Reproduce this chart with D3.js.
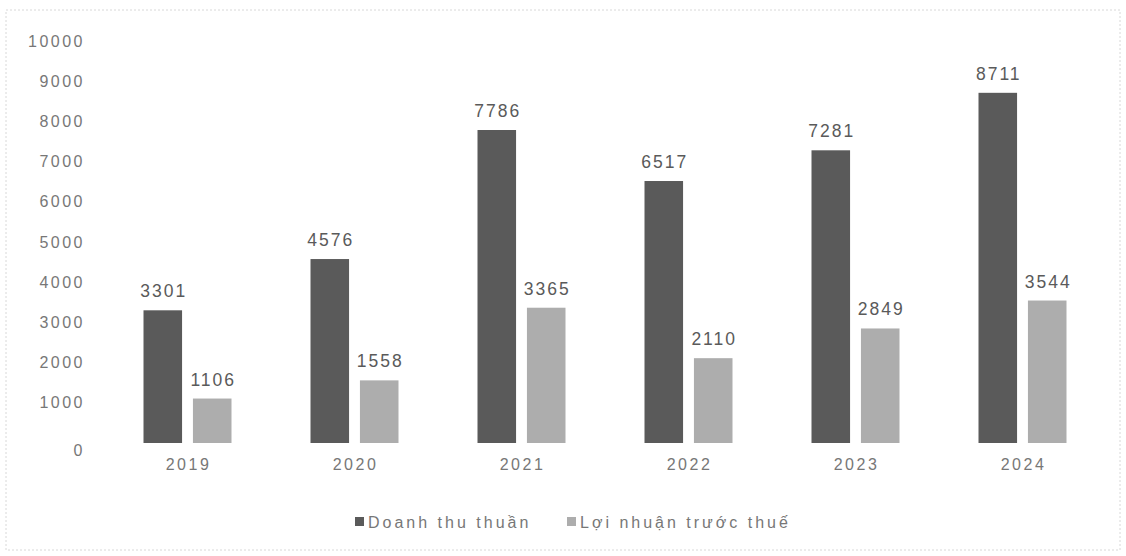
<!DOCTYPE html>
<html lang="vi">
<head>
<meta charset="UTF-8">
<title>Doanh thu thuần và Lợi nhuận trước thuế</title>
<script src="https://d3js.org/d3.v7.min.js"></script>
<style>
  body { margin: 0; background: #fff; }
  text { font-family: "Liberation Sans", Arial, sans-serif; }
</style>
</head>
<body>
<script>
// data
const years = ["2019", "2020", "2021", "2022", "2023", "2024"];
const revenue = [3301, 4576, 7786, 6517, 7281, 8711];
const profit = [1106, 1558, 3365, 2110, 2849, 3544];
const seriesNames = ["Doanh thu thuần", "Lợi nhuận trước thuế"];
const yTicks = [0, 1000, 2000, 3000, 4000, 5000, 6000, 7000, 8000, 9000, 10000];

const width = 1126, height = 556;
const colors = ["#5a5a5a", "#adadad"];

const svg = d3.select("body").append("svg")
    .attr("width", width)
    .attr("height", height);

// faint scanned frame
svg.append("rect")
    .attr("x", 6).attr("y", 10)
    .attr("width", width - 12).attr("height", height - 16)
    .attr("fill", "none")
    .attr("stroke", "#d8d8d8")
    .attr("stroke-dasharray", "2,2");

const x0 = d3.scaleBand()
    .domain(years)
    .range([104, 1106]);

const x1 = d3.scaleBand()
    .domain([0, 1])
    .range([x0.bandwidth() / 2 - 44, x0.bandwidth() / 2 + 44])
    .paddingInner(0.22);

const y = d3.scaleLinear()
    .domain([0, 10000])
    .range([443, 41]);

// y axis labels
const yAxis = svg.append("g")
    .attr("transform", "translate(85,0)")
    .call(d3.axisLeft(y).tickValues(yTicks).tickSize(0).tickPadding(0).tickFormat(d3.format("d")));
yAxis.select(".domain").remove();
yAxis.selectAll("text")
    .attr("fill", "#777")
    .style("font-size", "16px")
    .style("letter-spacing", "2.5px");
yAxis.selectAll("text").filter(d => d === 0).attr("dy", "0.75em");

// x axis labels
const xAxis = svg.append("g")
    .attr("transform", "translate(1,459)")
    .call(d3.axisBottom(x0).tickSize(0).tickPadding(0));
xAxis.select(".domain").remove();
xAxis.selectAll("text")
    .attr("fill", "#777")
    .style("font-size", "16px")
    .style("letter-spacing", "2.5px");

const groups = svg.append("g").selectAll("g")
    .data(years)
    .join("g")
    .attr("transform", d => `translate(${x0(d)},0)`);

const rows = (d, i) => [revenue[i], profit[i]];

groups.selectAll("rect")
    .data(rows)
    .join("rect")
    .attr("x", (v, j) => x1(j))
    .attr("y", v => y(v))
    .attr("width", x1.bandwidth())
    .attr("height", v => y(0) - y(v))
    .attr("fill", (v, j) => colors[j]);

groups.selectAll("text.val")
    .data(rows)
    .join("text")
    .attr("class", "val")
    .attr("x", (v, j) => x1(j) + x1.bandwidth() / 2 + 1)
    .attr("y", v => y(v) - 13)
    .attr("text-anchor", "middle")
    .attr("fill", "#5a5a5a")
    .style("font-size", "17.5px")
    .style("letter-spacing", "2px")
    .text(v => v);

// legend
const legend = svg.append("g").attr("transform", "translate(0,522)");
const legendX = [355, 567];
seriesNames.forEach((name, i) => {
    legend.append("rect")
        .attr("x", legendX[i]).attr("y", -5)
        .attr("width", 9).attr("height", 9)
        .attr("fill", colors[i]);
    legend.append("text")
        .attr("x", legendX[i] + 13)
        .attr("y", 0)
        .attr("dy", "0.35em")
        .attr("fill", "#777")
        .style("font-size", "16px")
        .style("letter-spacing", "3px")
        .text(name);
});
</script>
</body>
</html>
